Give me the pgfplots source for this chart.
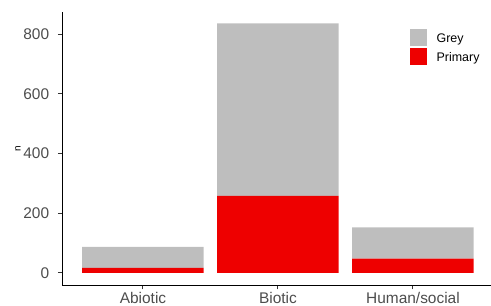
\documentclass[border=0pt]{standalone}
\usepackage{pgfplots}
\pgfplotsset{compat=1.18}
\usepackage{fontspec}
\setmainfont{Liberation Sans}
\definecolor{greybar}{HTML}{BEBEBE}
\definecolor{redbar}{HTML}{EE0000}
\definecolor{grey30}{HTML}{4D4D4D}
\definecolor{grey20}{HTML}{333333}
\begin{document}
\begin{tikzpicture}
\begin{axis}[
  scale only axis, width=429bp, height=273.6bp,
  xmin=0.4, xmax=3.578, ymin=-42, ymax=875,
  axis x line*=bottom, axis y line*=left,
  axis line style={black, line width=1bp, -},
  ybar stacked, bar width=0.9,
  xtick={1,2,3}, xticklabels={Abiotic,Biotic,Human/social},
  ytick={0,200,400,600,800},
  tick align=outside, major tick length=4bp,
  tick style={grey20, line width=1bp},
  /pgf/number format/assume math mode=true,
  ticklabel style={font=\fontsize{15.5}{18}\selectfont, text=grey30, inner sep=0pt},
  yticklabel style={xshift=-8.7bp},
  xticklabel style={yshift=-3bp},
  ylabel={n},
  every axis y label/.style={at={(axis description cs:-0.1026,0.5)}, rotate=90, anchor=center, font=\fontsize{10}{12}\selectfont},
  legend image code/.code={\fill[#1] (0bp,-7.5bp) rectangle (17bp,9.5bp);},
  reverse legend,
  legend cell align=left,
  legend style={at={(axis description cs:0.8112,0.9368)}, anchor=north west,
    draw=none, fill=none, inner sep=0pt, row sep=0pt,
    font=\fontsize{12.5}{15}\selectfont,
    nodes={inner sep=0pt, text height=13bp, text depth=6bp},
    /tikz/every odd column/.append style={column sep=9.4bp}},
]
\addplot[fill=redbar, draw=none] coordinates {(1,16) (2,258) (3,47)};
\addlegendentry{Primary}
\addplot[fill=greybar, draw=none] coordinates {(1,71) (2,578) (3,105)};
\addlegendentry{Grey}
\end{axis}
\pgfresetboundingbox
\path[use as bounding box] (-62bp,-20.7bp) rectangle (429bp,285.3bp);
\end{tikzpicture}
\end{document}
